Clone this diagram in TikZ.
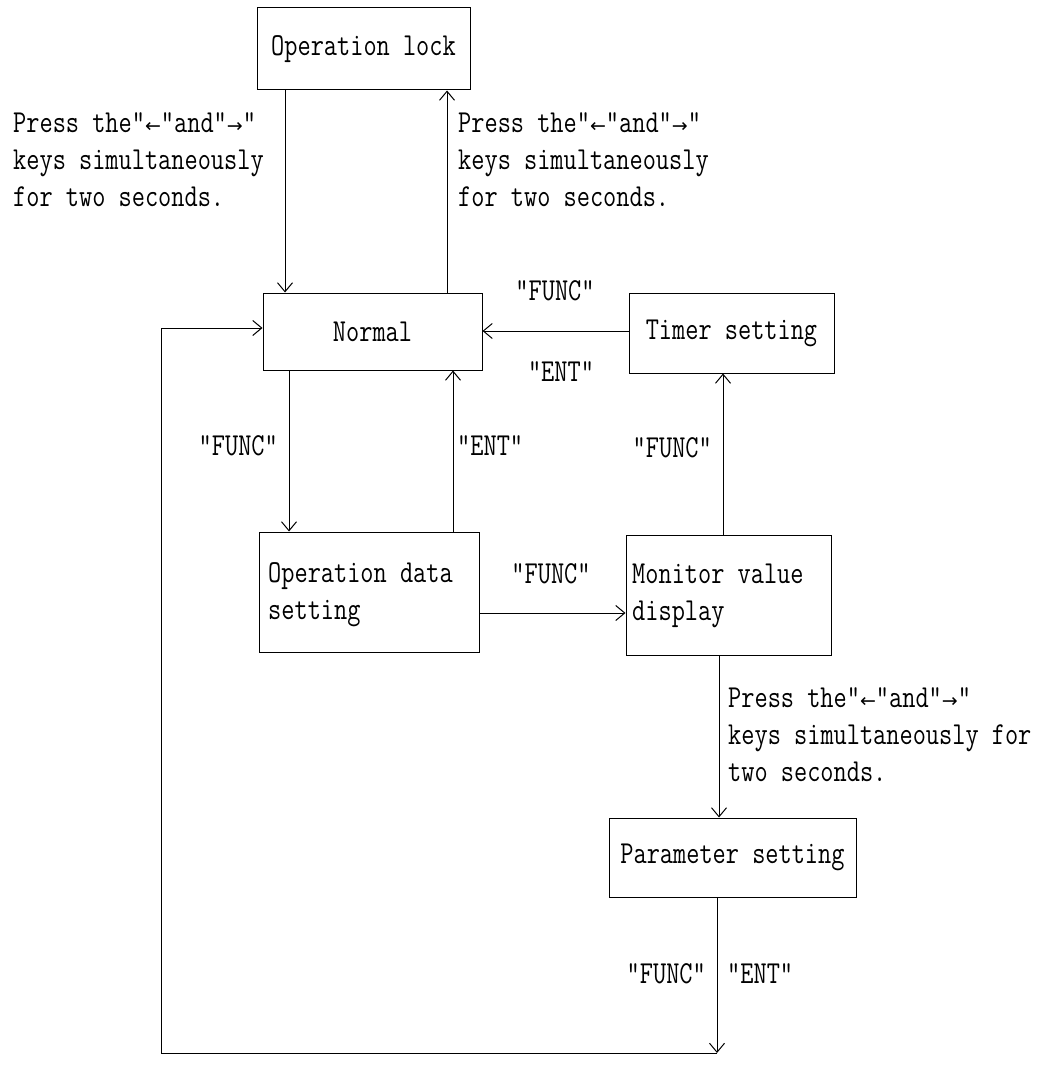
\documentclass[tikz,border=0pt]{standalone}
\usepackage{fontspec}
\setmainfont{Latin Modern Mono}[FakeStretch=0.8]
\newfontfamily\arrowfont{DejaVu Sans}
\usetikzlibrary{arrows.meta}
\newcommand{\mylines}[1]{\begin{tabular}[t]{@{}l@{}}#1\end{tabular}}
\newcommand{\myleftarr}{{\arrowfont\fontsize{19}{19}\selectfont ←}}
\newcommand{\myrightarr}{{\arrowfont\fontsize{19}{19}\selectfont →}}
\begin{document}
\begin{tikzpicture}[x=1pt,y=-1pt,
  every node/.style={font=\fontsize{32}{37}\selectfont},
  box/.style={draw, line width=1pt, inner sep=0pt},
  txt/.style={inner sep=0pt, anchor=base west},
  arr/.style={line width=1pt, -{Straight Barb[length=9pt,width=15pt]}},
  ln/.style={line width=1pt}]
\useasboundingbox (0,0) rectangle (1052,1067);
% boxes
\node[box, minimum width=213pt, minimum height=82pt] (oplock) at (363.5,49) {Operation lock};
\node[box, minimum width=219pt, minimum height=77pt] (normal) at (372.5,331.5) {Normal};
\node[box, minimum width=205pt, minimum height=80pt] (timer) at (731.5,333) {Timer setting};
\node[box, minimum width=220pt, minimum height=120pt] (opdata) at (369,592) {};
\node[box, minimum width=205pt, minimum height=120pt] (monitor) at (728.5,595) {};
\node[box, minimum width=247pt, minimum height=79pt] (param) at (732.5,857.5) {Parameter setting};
\node[txt] (opdatatxt) at (268,582) {\mylines{Operation data\\setting}};
\node[txt] (monitortxt) at (632,583) {\mylines{Monitor value\\display}};
% helper coordinates
\coordinate (xa) at (285,0);
\coordinate (xb) at (447,0);
\coordinate (xc) at (289,0);
\coordinate (xd) at (453,0);
\coordinate (xe) at (723,0);
\coordinate (xf) at (719,0);
\coordinate (xg) at (717,0);
\coordinate (ya) at (0,331);
\coordinate (yb) at (0,613);
\coordinate (yr) at (0,328);
\coordinate (bot) at (717,1053);
\coordinate (botl) at (161,1053);
\coordinate (topl) at (161,328);
% connectors
\draw[arr] (oplock.south -| xa) -- (normal.north -| xa);
\draw[arr] (normal.north -| xb) -- (oplock.south -| xb);
\draw[arr] (timer.west |- ya) -- (normal.east |- ya);
\draw[arr] (normal.south -| xc) -- (opdata.north -| xc);
\draw[arr] (opdata.north -| xd) -- (normal.south -| xd);
\draw[arr] (opdata.east |- yb) -- (monitor.west |- yb);
\draw[arr] (monitor.north -| xe) -- (timer.south -| xe);
\draw[arr] (monitor.south -| xf) -- (param.north -| xf);
\draw[arr] (param.south -| xg) -- (bot);
\draw[ln] (bot) -- (botl) -- (topl);
\draw[arr] (topl) -- (normal.west |- yr);
% labels
\node[txt] (t1) at (13,133) {\mylines{Press the"\myleftarr"and"\myrightarr"\\keys simultaneously\\for two seconds.}};
\node[txt] (t2) at (458,133) {\mylines{Press the"\myleftarr"and"\myrightarr"\\keys simultaneously\\for two seconds.}};
\node[txt] (t3) at (728,707) {\mylines{Press the"\myleftarr"and"\myrightarr"\\keys simultaneously for\\two seconds.}};
\node[txt, anchor=base] (l1) at (555,300) {"FUNC"};
\node[txt, anchor=base] (l2) at (561,381) {"ENT"};
\node[txt, anchor=base east] (l3) at (278,455) {"FUNC"};
\node[txt] (l4) at (457,455) {"ENT"};
\node[txt, anchor=base east] (l5) at (712,457) {"FUNC"};
\node[txt, anchor=base] (l6) at (551,583) {"FUNC"};
\node[txt, anchor=base east] (l7) at (706,983) {"FUNC"};
\node[txt] (l8) at (727,983) {"ENT"};
\end{tikzpicture}
\end{document}
